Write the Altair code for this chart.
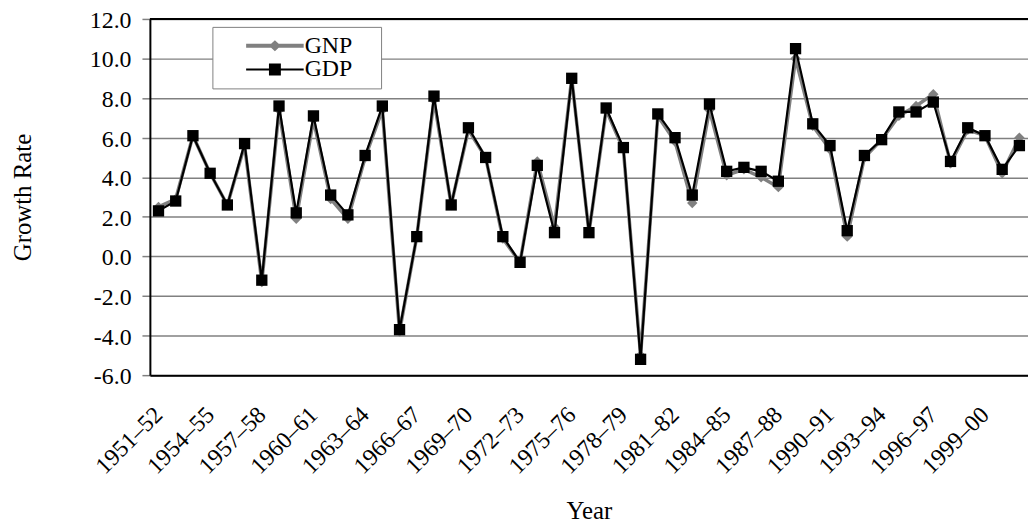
import altair as alt
import pandas as pd

FONT = "Liberation Serif"

years = ["1951–52", "1952–53", "1953–54", "1954–55", "1955–56", "1956–57", "1957–58", "1958–59", "1959–60", "1960–61",
         "1961–62", "1962–63", "1963–64", "1964–65", "1965–66", "1966–67", "1967–68", "1968–69", "1969–70", "1970–71",
         "1971–72", "1972–73", "1973–74", "1974–75", "1975–76", "1976–77", "1977–78", "1978–79", "1979–80", "1980–81",
         "1981–82", "1982–83", "1983–84", "1984–85", "1985–86", "1986–87", "1987–88", "1988–89", "1989–90", "1990–91",
         "1991–92", "1992–93", "1993–94", "1994–95", "1995–96", "1996–97", "1997–98", "1998–99", "1999–00", "2000–01",
         "2001–02"]

tick_labels = ["1951–52", "1954–55", "1957–58", "1960–61", "1963–64", "1966–67", "1969–70", "1972–73", "1975–76",
               "1978–79", "1981–82", "1984–85", "1987–88", "1990–91", "1993–94", "1996–97", "1999–00"]

gnp = [2.5, 2.9, 6.1, 4.2, 2.6, 5.6, -1.3, 7.4, 1.9, 6.9,
       2.9, 1.9, 5.0, 7.4, -3.8, 1.0, 7.9, 2.6, 6.4, 5.0,
       0.9, -0.3, 4.8, 1.5, 9.0, 1.2, 7.4, 5.4, -5.0, 7.1,
       5.8, 2.7, 7.4, 4.1, 4.4, 4.0, 3.5, 10.0, 6.6, 5.4,
       1.0, 5.0, 5.9, 7.1, 7.6, 8.2, 4.7, 6.4, 6.1, 4.2,
       6.0]

gdp = [2.3, 2.8, 6.1, 4.2, 2.6, 5.7, -1.2, 7.6, 2.2, 7.1,
       3.1, 2.1, 5.1, 7.6, -3.7, 1.0, 8.1, 2.6, 6.5, 5.0,
       1.0, -0.3, 4.6, 1.2, 9.0, 1.2, 7.5, 5.5, -5.2, 7.2,
       6.0, 3.1, 7.7, 4.3, 4.5, 4.3, 3.8, 10.5, 6.7, 5.6,
       1.3, 5.1, 5.9, 7.3, 7.3, 7.8, 4.8, 6.5, 6.1, 4.4,
       5.6]

series = ["GNP", "GDP"]
series_colors = ["#808080", "#000000"]
y_ticks = [-6, -4, -2, 0, 2, 4, 6, 8, 10, 12]

# legend symbols: a line segment with the marker on it
# (a zero-area sliver at the far right widens the legend frame without drawing anything)
gnp_symbol = "M-5.8,-0.4H5.8V0.4H-5.8Z M0,-1.1L1.2,0L0,1.1L-1.2,0Z M20,-0.01L20,0.01Z"
gdp_symbol = "M-5.8,-0.2H5.8V0.2H-5.8Z M-1.2,-1.2H1.2V1.2H-1.2Z M20,-0.01L20,0.01Z"

df = pd.DataFrame({"year": years, "GNP": gnp, "GDP": gdp})

x_enc = alt.X(
    "year:N", sort=years,
    scale=alt.Scale(type="point", padding=0.5),
    axis=alt.Axis(
        title="Year", values=tick_labels, labelAngle=-45, labelAlign="right",
        labelBaseline="middle", labelPadding=36, ticks=False, grid=False,
        domain=True, domainColor="black", domainWidth=2, labelOverlap=False,
        labelFont=FONT, labelFontSize=24, labelColor="black",
        titleFont=FONT, titleFontSize=25, titleFontWeight="normal", titleColor="black",
        titleY=144, titleBaseline="alphabetic",
    ),
)

y_axis = alt.Axis(
    title="Growth Rate", values=y_ticks,
    labelExpr="(datum.value < 0 ? '-' : '') + format(abs(datum.value), '.1f')",
    grid=True, gridColor="#808080", gridWidth=1.5,
    domain=True, domainColor="black", domainWidth=2,
    ticks=True, tickColor="#808080", tickWidth=1.5, tickSize=8,
    labelPadding=11, labelOffset=1.5, labelFont=FONT, labelFontSize=24, labelColor="black",
    titleFont=FONT, titleFontSize=25, titleFontWeight="normal", titleColor="black",
    titleX=-128, titleBaseline="middle",
)
y_scale = alt.Scale(domain=[-6, 12], nice=False, zero=False)

base = alt.Chart(df).encode(x=x_enc)

gnp_line = base.mark_line(color="#808080", strokeWidth=3.5).encode(
    y=alt.Y("GNP:Q", scale=y_scale, axis=y_axis))
gnp_pts = base.mark_point(shape="diamond", filled=True, color="#808080", size=110, opacity=1).encode(
    y=alt.Y("GNP:Q", scale=y_scale, axis=y_axis))
gdp_line = base.mark_line(color="#000000", strokeWidth=2.2).encode(
    y=alt.Y("GDP:Q", scale=y_scale, axis=y_axis))
gdp_pts = base.mark_point(shape="square", filled=True, color="#000000", size=130, opacity=1).encode(
    y=alt.Y("GDP:Q", scale=y_scale, axis=y_axis))

top_rule = alt.Chart(pd.DataFrame({"v": [12]})).mark_rule(color="black", strokeWidth=2).encode(
    y=alt.Y("v:Q", scale=y_scale, axis=y_axis))

legend = alt.Legend(
    title=None, orient="none", legendX=63, legendY=8, direction="vertical",
    fillColor="white", strokeColor="#808080", padding=7, rowPadding=0,
    labelFont=FONT, labelFontSize=24, labelColor="black",
    symbolSize=100, symbolOffset=44, labelOffset=18, symbolOpacity=1, symbolStrokeWidth=0,
)

legend_layer = alt.Chart(pd.DataFrame({"series": series})).transform_filter("false").mark_point(
    filled=True, size=100, opacity=1).encode(
    color=alt.Color("series:N", scale=alt.Scale(domain=series, range=series_colors), legend=legend),
    shape=alt.Shape("series:N", scale=alt.Scale(domain=series, range=[gnp_symbol, gdp_symbol]), legend=legend),
)

chart = alt.layer(gnp_line, gnp_pts, gdp_line, gdp_pts, top_rule, legend_layer).properties(
    width=885, height=359,
    autosize=alt.AutoSizeParams(type="none"),
    padding={"left": 143, "top": 9, "right": 0, "bottom": 150},
    background="white",
).configure_view(strokeWidth=0)

chart.save("out.html", embed_options={"renderer": "svg", "actions": False})
